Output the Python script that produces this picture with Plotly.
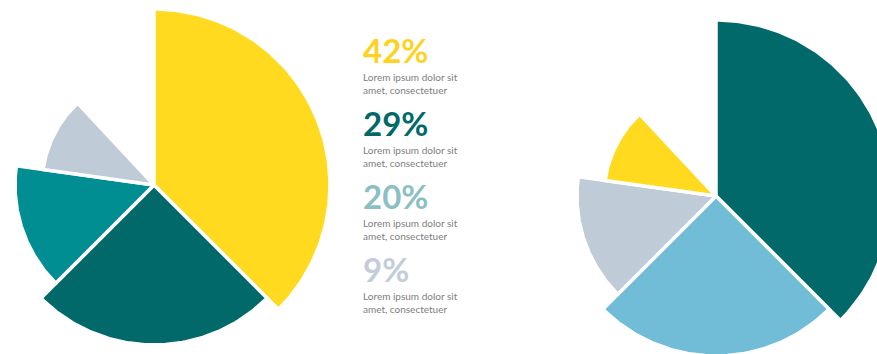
import numpy as np
import plotly.graph_objects as go

# ---- data ----
pct_labels = ["42%", "29%", "20%", "9%"]
caption = "Lorem ipsum dolor sit<br>amet, consectetuer"
# angular span of each slice (degrees, clockwise from 12 o'clock)
slice_span = [135, 90, 53, 39]
# relative radius of each slice
slice_radius = [176, 160, 139, 112]

left_colors = ["#FFDA1F", "#02696B", "#018E93", "#BFCBD7"]
right_colors = ["#02696B", "#71BCD6", "#BFCBD7", "#FFDA1F"]
label_colors = ["#FFD21F", "#02696B", "#8CBFC4", "#C3CDD9"]

W, H = 877, 354
fig = go.Figure()


def add_pie(cx, cy, scale, colors):
    start = 0.0
    for span, rad, col in zip(slice_span, slice_radius, colors):
        th = np.radians(np.linspace(start, start + span, 120))
        r = rad * scale
        xs = np.concatenate([[cx], cx + r * np.sin(th), [cx]])
        ys = np.concatenate([[cy], cy - r * np.cos(th), [cy]])
        fig.add_trace(go.Scatter(x=xs, y=ys, mode="lines", fill="toself",
                                 fillcolor=col, line=dict(color="white", width=3.5),
                                 hoverinfo="skip", showlegend=False))
        start += span


add_pie(154, 185, 1.0, left_colors)
add_pie(716, 196, 1.0, right_colors)

# text column
for i, (lab, col) in enumerate(zip(pct_labels, label_colors)):
    y0 = 49.5 + i * 73
    fig.add_annotation(x=362, y=y0, xref="x", yref="y", text="<b>" + lab + "</b>",
                       showarrow=False, xanchor="left", yanchor="middle", borderpad=0,
                       font=dict(family="Lato", size=33, color=col))
    fig.add_annotation(x=362, y=y0 + 20.5, xref="x", yref="y", text=caption,
                       showarrow=False, xanchor="left", yanchor="top", align="left",
                       borderpad=0,
                       font=dict(family="Lato", size=10, color="#7E7E80"))

fig.update_layout(width=W, height=H, margin=dict(l=0, r=0, t=0, b=0),
                  paper_bgcolor="white", plot_bgcolor="white",
                  xaxis=dict(range=[0, W], visible=False, fixedrange=True),
                  yaxis=dict(range=[H, 0], visible=False, fixedrange=True))

fig.write_html("out.html")
